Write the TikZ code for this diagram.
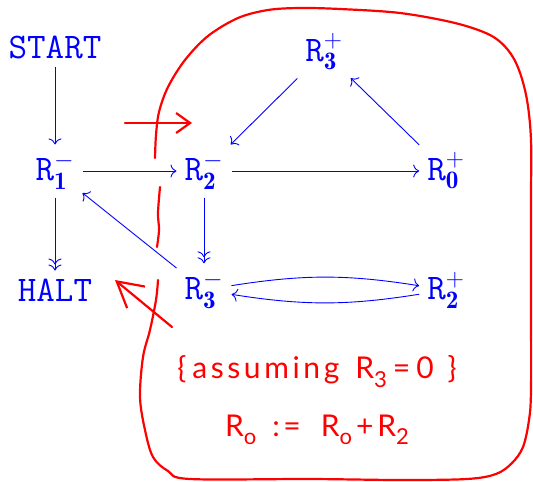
\RequirePackage{fix-cm}
\documentclass[tikz,border=0pt]{standalone}
\usepackage{fontspec}
\newfontfamily\hand[LetterSpace=12]{Lato}
\usetikzlibrary{arrows.meta}
\begin{document}
\begin{tikzpicture}[x=1pt,y=-1pt,
  >={Computer Modern Rightarrow[length=6pt,width=13pt]},
  reg/.style={text=blue, inner sep=8pt, font=\fontsize{36}{40}\selectfont},
  blueline/.style={draw=blue, line width=0.9pt},
  redline/.style={draw=red, line width=2.2pt, line cap=round, line join=round},
  handtext/.style={text=red, inner sep=0pt, font=\hand\fontsize{30}{34}\selectfont}]
\useasboundingbox (0,0) rectangle (533,482);
% nodes
\node[reg] (start) at (55,47) {\ttfamily START};
\node[reg] (r3p) at (324,52) {$\mathtt{R}_{\mathbf{3}}^{+}$};
\node[reg] (r1m) at (55,171) {$\mathtt{R}_{\mathbf{1}}^{-}$};
\node[reg] (r2m) at (204,171) {$\mathtt{R}_{\mathbf{2}}^{-}$};
\node[reg] (r0p) at (446,171) {$\mathtt{R}_{\mathbf{0}}^{+}$};
\node[reg] (halt) at (55,290) {\ttfamily HALT};
\node[reg] (r3m) at (204,290) {$\mathtt{R}_{\mathbf{3}}^{-}$};
\node[reg] (r2p) at (446,290) {$\mathtt{R}_{\mathbf{2}}^{+}$};
% blue connectors
\draw[blueline,->] (start) -- (r1m);
\draw[blueline,->] (r1m) -- (r2m);
\draw[blueline,->>] (r1m) -- (halt);
\draw[blueline,->] (r2m) -- (r0p);
\draw[blueline,->>] (r2m) -- (r3m);
\draw[blueline,->] (r3m) -- (r1m);
\draw[blueline,->] (r3p) -- (r2m);
\draw[blueline,->] (r0p) -- (r3p);
\draw[blueline,->] (r3m) to[bend left=9] (r2p);
\draw[blueline,->] (r2p) to[bend left=9] (r3m);
% red loop
\draw[redline] plot[smooth, tension=0.55] coordinates {
 (155,158) (156,135) (159,112) (168,87) (185,60) (208,36) (238,18) (268,10)
 (300,8) (340,9) (400,13) (455,23) (490,35) (508,50) (519,70) (527,100)
 (531,140) (531,200) (531,300) (531,390) (529,420) (523,447) (512,463)
 (496,474) (467,479) (400,480) (310,479) (190,479) (168,471) (153,457)
 (145,430) (140,397) (143,357) (150,330) (156,300) (158,280)};
\draw[redline] plot[smooth, tension=0.55] coordinates {
 (160,187) (158,213) (159,230) (157,247)};
% red arrows
\coordinate (a1s) at (125,123);
\coordinate (a1e) at (192,123);
\draw[redline,-{Straight Barb[length=14pt,width=20pt]}] (a1s) -- (a1e);
\coordinate (a2s) at (172,327);
\coordinate (a2e) at (115,280);
\draw[redline,-{Straight Barb[length=25pt,width=28pt]}] (a2s) -- (a2e);
% red text
\node[handtext] (note1) at (317,372) {\{\hspace{6pt}assuming\hspace{16pt}R\raisebox{-0.3em}{\fontsize{22}{22}\selectfont 3}\hspace{6pt}=\hspace{6pt}0\hspace{14pt}\}};
\node[handtext] (note2) at (317,430) {R\raisebox{-0.25em}{\fontsize{22}{22}\selectfont o}\hspace{16pt}:=\hspace{20pt}R\raisebox{-0.25em}{\fontsize{22}{22}\selectfont o}\hspace{4pt}+\hspace{4pt}R\raisebox{-0.25em}{\fontsize{22}{22}\selectfont 2}};
\end{tikzpicture}
\end{document}
